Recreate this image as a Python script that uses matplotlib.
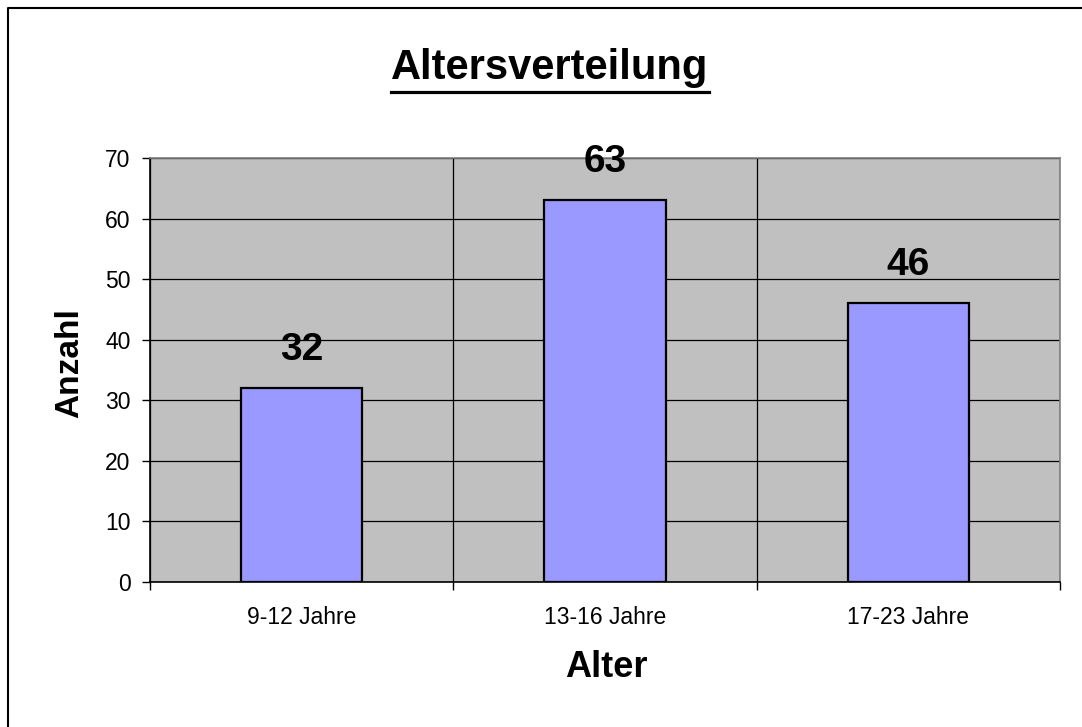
import matplotlib
matplotlib.use("Agg")
import matplotlib.pyplot as plt
from matplotlib.lines import Line2D

categories = ["9-12 Jahre", "13-16 Jahre", "17-23 Jahre"]
values = [32, 63, 46]
yticks = [0, 10, 20, 30, 40, 50, 60, 70]
title = "Altersverteilung"
xlabel = "Alter"
ylabel = "Anzahl"

W, H = 1082, 727
DPI = 100
plt.rcParams['font.family'] = ['Liberation Sans', 'DejaVu Sans']

fig = plt.figure(figsize=(W / DPI, H / DPI), dpi=DPI)
fig.patch.set_facecolor('white')

def fx(px):
    return px / W

def fy(py):
    return 1 - py / H

L, R, T, B = 150, 1060, 158, 582
ax = fig.add_axes([fx(L), fy(B), fx(R - L), (B - T) / H])
ax.set_facecolor('#C0C0C0')

x = list(range(len(categories)))
ax.bar(x, values, width=0.4, color='#9999FF', edgecolor='black', linewidth=1.6, zorder=3)
ax.set_xlim(-0.5, len(categories) - 0.5)
ax.set_ylim(0, 70)
ax.set_yticks(yticks)
ax.set_xticks(x)
ax.set_xticklabels(categories, fontsize=16.5)
ax.set_xticks([i - 0.5 for i in range(len(categories) + 1)], minor=True)
ax.tick_params(axis='x', which='major', length=0, pad=17)
ax.tick_params(axis='x', which='minor', length=6, width=1, color='black', direction='out')
ax.tick_params(axis='y', which='major', length=6, width=1, labelsize=16.5, pad=8, direction='out')

ax.grid(axis='y', which='major', color='black', linewidth=0.9, zorder=0)
ax.grid(axis='x', which='minor', color='black', linewidth=0.9, zorder=0)
ax.set_axisbelow(True)

for s in ['top', 'right']:
    ax.spines[s].set_color('#808080')
    ax.spines[s].set_linewidth(1.2)
for s in ['left', 'bottom']:
    ax.spines[s].set_color('black')
    ax.spines[s].set_linewidth(1.2)

for xi, v in zip(x, values):
    ax.annotate(str(v), (xi, v), xytext=(0, 28 * 72 / DPI), textcoords='offset points',
                ha='center', va='baseline', fontsize=28, fontweight='bold', zorder=5,
                annotation_clip=False)

fig.text(fx(606), fy(677), xlabel, ha='center', va='baseline', fontsize=26, fontweight='bold')
fig.text(fx(69.5), fy(363.5), ylabel, ha='center', va='center', rotation=90,
         fontsize=24, fontweight='bold')

# title with underline
t = fig.text(fx(550), fy(79), title, ha='center', va='baseline', fontsize=30, fontweight='bold')
fig.canvas.draw()
bb = t.get_window_extent()
uy = fy(91.5)
fig.add_artist(Line2D([bb.x0 / W, bb.x1 / W], [uy, uy], color='black', linewidth=2.3,
                      transform=fig.transFigure))

# outer chart border (left and top visible)
fig.add_artist(Line2D([fx(8), fx(8), fx(W + 5)], [fy(H + 5), fy(7.5), fy(7.5)], color='black',
                      linewidth=1.5, transform=fig.transFigure))

fig.savefig('out.png', dpi=DPI)
